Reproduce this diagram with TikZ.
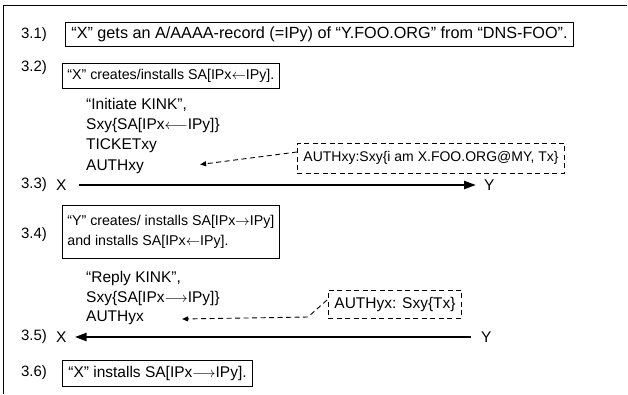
\documentclass[tikz,border=0pt]{standalone}
\usepackage{fontspec}
\setmainfont{Liberation Sans}
\usetikzlibrary{arrows.meta}
\newcommand{\la}{\(\leftarrow\)}
\newcommand{\lla}{\(\longleftarrow\)}
\newcommand{\ra}{\(\rightarrow\)}
\newcommand{\lra}{\(\longrightarrow\)}
\newcommand{\fs}[1]{\fontsize{#1}{#1}\selectfont}
\begin{document}
\begin{tikzpicture}[x=1pt,y=-1pt,
  every node/.style={font=\fs{15}, inner sep=0pt},
  lbl/.style={anchor=center},
  stepbox/.style={draw, line width=0.8pt, anchor=west, inner xsep=5pt, inner ysep=0pt, minimum height=24pt, align=left},
  dbox/.style={draw, dashed, dash pattern=on 5pt off 3.5pt, line width=0.9pt, anchor=west, inner xsep=6pt, minimum height=28pt},
  msg/.style={anchor=west, font=\fs{15.5}},
  bigarrow/.style={line width=2.4pt, -{Triangle[length=12pt,width=8pt]}},
  darrow/.style={line width=0.9pt, dash pattern=on 5pt off 3.5pt, -{Triangle[length=6pt,width=5pt]}}
]
\useasboundingbox (0,0) rectangle (628,394);
\draw[line width=0.9pt] (627,5) -- (3,5) -- (3,394);

\node[lbl] (l31) at (34,35) {3.1)};
\node[stepbox, font=\fs{16.2}, inner xsep=6pt] (b31) at (65,34) {“X” gets an A/AAAA-record (=IPy) of “Y.FOO.ORG” from “DNS-FOO”.};

\node[lbl] (l32) at (34,68) {3.2)};
\node[stepbox, minimum height=25pt, font=\fs{14.2}] (b32) at (62,75.5) {“X” creates/installs SA[IPx\la IPy].};

\node[msg] (m1a) at (86,105) {“Initiate KINK”,};
\node[msg] (m1b) at (86,125.5) {Sxy\{SA[IPx\lla IPy]\}};
\node[msg] (m1c) at (86,146) {TICKETxy};
\node[msg] (m1d) at (86,166.5) {AUTHxy};
\node[dbox, minimum height=30pt, font=\fs{14}] (d1) at (297,158) {AUTHxy:Sxy\{i am X.FOO.ORG@MY, Tx\}};
\coordinate (d1s) at (297,152);
\coordinate (d1e) at ([xshift=56pt,yshift=2pt]m1d.east);
\draw[darrow] (d1s) -- (d1e);

\node[lbl] (l33) at (34,185) {3.3)};
\node[msg] (x1) at (56,185) {X};
\node[msg] (y1) at (484,185) {Y};
\draw[bigarrow] ([xshift=12pt]x1.east) -- ([xshift=-8pt]y1.west);

\node[lbl] (l34) at (34,235) {3.4)};
\node[stepbox, minimum height=53pt, font=\fontsize{14.2}{20}\selectfont] (b34) at (62,231.5) {“Y” creates/ installs SA[IPx\ra IPy]\\and installs SA[IPx\la IPy].};

\node[msg] (m2a) at (86,278) {“Reply KINK”,};
\node[msg] (m2b) at (86,298) {Sxy\{SA[IPx\lra IPy]\}};
\node[msg] (m2c) at (86,318) {AUTHyx};
\node[dbox, font=\fs{15.5}] (d2) at (328,304) {AUTHyx: Sxy\{Tx\}};
\coordinate (d2s) at (327,300);
\coordinate (d2k) at (308,317);
\coordinate (d2e) at ([xshift=38pt,yshift=-1pt]m2c.east);
\draw[darrow] (d2s) -- (d2k) -- (d2e);

\node[lbl] (l35) at (34,337) {3.5)};
\node[msg] (x2) at (56,337) {X};
\node[msg] (y2) at (481,337) {Y};
\draw[bigarrow] ([xshift=-10pt]y2.west) -- ([xshift=8pt]x2.east);

\node[lbl] (l36) at (34,373) {3.6)};
\node[stepbox, minimum height=26pt, font=\fs{15.5}, inner xsep=6pt] (b36) at (62,373) {“X” installs SA[IPx\lra IPy].};
\end{tikzpicture}
\end{document}
